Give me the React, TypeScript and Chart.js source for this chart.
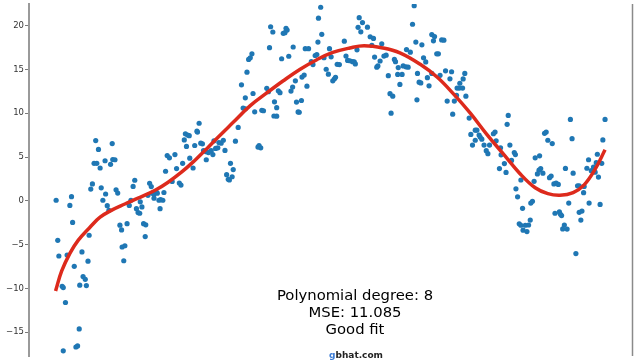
import React, { useEffect, useRef } from "react";
import { Chart, registerables } from "chart.js";

Chart.register(...registerables);

// Observed samples [x, y]
const observedPoints: [number, number][] = [
  [0.02, 0.07], [0.05, -4.51], [0.07, -6.3], [0.13, -9.76], [0.15, -9.91], [0.15, -17.13],
  [0.19, -11.61], [0.22, -6.19], [0.27, -0.52], [0.3, 0.48], [0.32, -2.46], [0.35, -7.48],
  [0.38, -16.69], [0.41, -16.57], [0.44, -14.63], [0.45, -9.63], [0.49, -5.83], [0.51, -8.64],
  [0.55, -8.96], [0.57, -9.68], [0.6, -6.89], [0.62, -3.93], [0.65, 1.34], [0.68, 1.93],
  [0.71, 4.28], [0.76, 4.28], [0.74, 6.88], [0.79, 5.87], [0.82, 3.75], [0.84, 1.49],
  [0.87, 0.07], [0.91, 4.58], [0.92, 0.78], [0.95, -0.55], [0.98, -1.08], [1.01, 4.17],
  [1.04, 6.54], [1.05, 4.72], [1.09, 4.69], [1.11, 1.26], [1.14, 0.89], [1.18, -2.78],
  [1.21, -3.32], [1.22, -5.27], [1.27, -5.13], [1.25, -6.84], [1.31, -2.61], [1.35, -0.52],
  [1.38, 0.07], [1.42, 1.65], [1.45, 2.35], [1.48, -0.89], [1.51, -1.34], [1.54, -1.42],
  [1.55, -0.11], [1.58, -0.69], [1.61, -2.61], [1.65, -2.74], [1.64, -4.08], [1.69, 0.63],
  [1.72, 2.01], [1.75, 1.63], [1.77, 0.87], [1.8, 0.78], [1.84, 1.01], [1.86, 0.87],
  [1.8, 0.31], [1.89, 0.07], [1.92, 0.15], [1.96, 0.07], [1.91, -0.89], [1.98, 0.95],
  [2.01, 3.38], [2.04, 5.17], [2.08, 4.91], [2.13, 2.21], [2.18, 5.28], [2.21, 3.69],
  [2.26, 2.04], [2.29, 1.8], [2.32, 4.28], [2.35, 6.96], [2.37, 7.66], [2.41, 7.52],
  [2.44, 7.44], [2.39, 6.21], [2.45, 4.87], [2.51, 3.75], [2.54, 6.32], [2.58, 7.96],
  [2.59, 7.85], [2.62, 8.86], [2.65, 6.59], [2.68, 6.51], [2.7, 5.73], [2.75, 5.62],
  [2.79, 5.51], [2.84, 5.73], [2.87, 5.28], [2.75, 4.69], [2.89, 6.85], [2.98, 6.66],
  [3.02, 6.59], [3.06, 6.92], [2.92, 5.99], [2.96, 6.06], [3.09, 5.76], [3.12, 2.99],
  [3.15, 2.46], [3.17, 2.38], [3.22, 2.75], [3.19, 4.28], [3.24, 3.57], [3.28, 6.81],
  [3.33, 8.38], [3.39, 13.25], [3.46, 11.76], [3.42, 10.59], [3.46, 10.51], [3.49, 14.69],
  [3.52, 16.15], [3.55, 16.34], [3.58, 16.79], [3.6, 12.26], [3.63, 10.17], [3.69, 6.14],
  [3.71, 6.32], [3.74, 6.06], [3.76, 10.34], [3.79, 10.29], [3.85, 12.85], [3.88, 12.47],
  [3.9, 17.49], [3.92, 19.88], [3.96, 19.28], [3.99, 11.31], [4.03, 10.64], [3.98, 9.69],
  [4.03, 9.67], [4.06, 12.56], [4.09, 12.35], [4.12, 16.23], [4.15, 19.13], [4.18, 19.21],
  [4.22, 19.5], [4.2, 19.71], [4.25, 16.51], [4.29, 12.54], [4.32, 12.99], [4.33, 17.57],
  [4.37, 13.71], [4.39, 11.28], [4.42, 10.16], [4.44, 10.12], [4.48, 11.46], [4.49, 14.14],
  [4.53, 14.36], [4.55, 17.38], [4.61, 17.38], [4.58, 13.1], [4.66, 15.89], [4.69, 15.56],
  [4.73, 16.6], [4.76, 16.71], [4.78, 18.13], [4.79, 20.86], [4.83, 22.11], [4.85, 19.02],
  [4.89, 16.34], [4.93, 15.03], [4.97, 14.47], [4.99, 17.38], [5.02, 16.45], [5.05, 13.71],
  [5.08, 13.94], [5.1, 14.11], [5.13, 15.59], [5.17, 15.56], [5.26, 18.24], [5.29, 16.53],
  [5.32, 16.04], [5.36, 16.0], [5.41, 15.89], [5.44, 15.86], [5.46, 15.64], [5.49, 17.25],
  [5.51, 19.82], [5.53, 20.92], [5.56, 19.3], [5.59, 20.36], [5.68, 19.83], [5.73, 18.74],
  [5.79, 18.55], [5.76, 17.76], [5.81, 16.42], [5.85, 15.26], [5.87, 15.41], [5.91, 15.97],
  [5.94, 17.94], [5.98, 16.53], [6.02, 16.64], [6.06, 14.3], [6.09, 12.24], [6.14, 11.95],
  [6.11, 10.01], [6.17, 16.15], [6.19, 15.89], [6.24, 15.22], [6.23, 14.44], [6.31, 14.44],
  [6.27, 13.29], [6.33, 15.41], [6.38, 15.3], [6.42, 15.26], [6.39, 17.27], [6.46, 16.98],
  [6.5, 20.17], [6.53, 22.29], [6.56, 18.13], [6.59, 14.55], [6.58, 11.54], [6.62, 13.55],
  [6.67, 17.82], [6.7, 16.34], [6.74, 15.86], [6.65, 13.47], [6.77, 14.07], [6.8, 13.13],
  [6.85, 18.99], [6.9, 18.76], [6.88, 18.27], [6.94, 16.79], [6.97, 16.79], [7.03, 18.38],
  [7.07, 18.35], [6.85, 14.55], [7.0, 14.33], [7.1, 14.85], [7.21, 14.74], [7.18, 13.94],
  [7.45, 14.55], [7.42, 13.92], [7.36, 13.43], [7.31, 12.88], [7.35, 12.88], [7.41, 12.88],
  [7.13, 11.39], [7.26, 11.39], [7.3, 12.06], [7.47, 11.95], [7.23, 9.9], [7.53, 9.45],
  [7.64, 8.07], [7.67, 8.07], [7.56, 7.59], [7.71, 7.52], [7.73, 7.29], [7.76, 7.04],
  [7.64, 6.92], [7.59, 6.37], [7.8, 6.37], [7.9, 6.37], [7.84, 5.73], [7.87, 5.39],
  [7.97, 7.66], [8.0, 7.85], [8.02, 6.85], [8.1, 6.06], [8.11, 5.25], [8.22, 8.74],
  [8.24, 9.75], [8.27, 6.37], [8.35, 5.51], [8.37, 5.28], [8.3, 4.61], [8.08, 3.69],
  [8.17, 4.26], [8.2, 3.24], [8.38, 1.37], [8.41, 0.46], [8.47, 2.38], [8.5, -0.86],
  [8.65, -0.26], [8.68, -0.06], [8.44, -2.62], [8.47, -2.79], [8.55, -2.79], [8.61, -2.76],
  [8.64, -2.2], [8.51, -3.35], [8.58, -3.51], [8.71, 2.23], [8.73, 4.91], [8.81, 5.14],
  [8.83, 3.69], [8.8, 3.5], [8.77, 3.07], [8.87, 3.16], [8.9, 7.71], [8.93, 7.85],
  [8.96, 6.92], [9.04, 6.54], [8.99, 2.64], [9.02, 2.83], [9.07, 1.93], [9.11, 2.04],
  [9.15, 1.88], [9.09, -1.42], [9.17, -1.27], [9.19, -1.53], [9.21, -1.68], [9.26, -2.76],
  [9.23, -3.21], [9.31, -3.23], [9.28, 3.7], [9.34, -0.25], [9.37, 9.3], [9.4, 7.1],
  [9.42, 3.16], [9.47, -6.02], [9.5, 1.71], [9.53, 1.71], [9.62, 1.65], [9.61, 0.93],
  [9.53, -1.31], [9.58, -1.17], [9.56, -2.2], [9.67, 3.72], [9.7, 4.69], [9.71, -0.26],
  [9.75, 3.44], [9.79, 3.86], [9.84, 4.36], [9.82, 3.27], [9.86, 5.32], [9.88, 2.71],
  [9.94, 4.28], [9.91, -0.41], [9.96, 6.96], [10.0, 9.3],
];

// Fitted degree-8 polynomial curve [x, y]
const fittedCurve: [number, number][] = [
  [0.01, -10.29], [0.12, -8.04], [0.27, -6.0], [0.42, -4.51], [0.64, -2.98], [0.82, -1.87],
  [1.04, -1.03], [1.27, -0.36], [1.51, 0.31], [1.82, 1.21], [2.05, 2.1], [2.31, 3.33],
  [2.55, 4.67], [2.76, 5.95], [2.95, 7.18], [3.24, 8.97], [3.55, 10.87], [3.85, 12.32],
  [4.15, 13.71], [4.45, 15.0], [4.76, 16.12], [5.05, 16.95], [5.36, 17.46], [5.62, 17.71],
  [5.96, 17.46], [6.27, 16.9], [6.64, 15.59], [6.95, 14.11], [7.24, 12.24], [7.55, 10.01],
  [7.85, 7.59], [8.15, 5.36], [8.45, 3.13], [8.73, 1.49], [8.96, 0.82], [9.18, 0.63],
  [9.42, 0.93], [9.62, 1.82], [9.82, 3.61], [10.0, 5.84],
];

const yTickValues = [-15, -10, -5, 0, 5, 10, 15, 20];
const annotationLines = ["Polynomial degree: 8", "MSE: 11.085", "Good fit"];
const watermarkParts = ["g", "bhat.com"];

const X_MIN = -0.473;
const X_MAX = 10.49;
const Y_MIN = -17.72;
const Y_MAX = 22.48;

const formatTick = (v: number) => (v < 0 ? "\u2212" + Math.abs(v) : String(v));

export default function App() {
  const canvasRef = useRef<HTMLCanvasElement>(null);

  useEffect(() => {
    if (!canvasRef.current) return;
    const rightSpine = {
      id: "rightSpine",
      afterDraw(chart: any) {
        const { ctx, chartArea } = chart;
        ctx.save();
        ctx.strokeStyle = "#8a8a8a";
        ctx.lineWidth = 1.5;
        ctx.beginPath();
        ctx.moveTo(chartArea.right + 0.5, chartArea.top);
        ctx.lineTo(chartArea.right + 0.5, chartArea.bottom);
        ctx.stroke();
        ctx.restore();
      },
    };
    const chart = new Chart(canvasRef.current, {
      type: "scatter",
      data: {
        datasets: [
          {
            label: "fit",
            data: fittedCurve.map(([x, y]) => ({ x, y })),
            showLine: true,
            borderColor: "#dd2a1c",
            borderWidth: 3.5,
            pointRadius: 0,
            tension: 0.4,
            fill: false,
            order: 0,
          } as any,
          {
            label: "data",
            data: observedPoints.map(([x, y]) => ({ x, y })),
            backgroundColor: "#1f77b4",
            borderWidth: 0,
            pointRadius: 2.6,
            order: 1,
          },
        ],
      },
      options: {
        responsive: false,
        animation: false,
        devicePixelRatio: 1,
        events: [],
        layout: { padding: { left: 0, right: 8, top: 0, bottom: 0 } },
        plugins: { legend: { display: false }, tooltip: { enabled: false } },
        scales: {
          x: { type: "linear", display: false, min: X_MIN, max: X_MAX },
          y: {
            type: "linear",
            min: Y_MIN,
            max: Y_MAX,
            afterBuildTicks: (scale: any) => {
              scale.ticks = yTickValues.map((value) => ({ value }));
            },
            afterFit: (scale: any) => {
              scale.width = 29;
              scale.paddingTop = 0;
              scale.paddingBottom = 0;
            },
            grid: {
              display: true,
              drawOnChartArea: false,
              drawTicks: true,
              tickLength: 4,
              color: "#7a7a7a",
            },
            border: { display: true, color: "#9a9a9a", width: 2 },
            ticks: {
              padding: 1,
              color: "#333333",
              font: { family: "'DejaVu Sans'", size: 8.5 },
              callback: (v: any) => formatTick(Number(v)),
            },
          },
        },
      },
      plugins: [rightSpine],
    });
    return () => chart.destroy();
  }, []);

  return (
    <div
      style={{
        position: "fixed",
        left: 0,
        top: 0,
        width: 640,
        height: 360,
        background: "#ffffff",
        overflow: "hidden",
      }}
    >
      <canvas ref={canvasRef} width={640} height={360} style={{ display: "block" }} />
      <div
        style={{
          position: "absolute",
          left: 355,
          top: 286,
          transform: "translateX(-50%)",
          textAlign: "center",
          fontFamily: "'DejaVu Sans'",
          fontSize: "14.8px",
          lineHeight: "17.2px",
          color: "#000",
          whiteSpace: "nowrap",
        }}
      >
        {annotationLines.map((t) => (
          <div key={t}>{t}</div>
        ))}
      </div>
      <div
        style={{
          position: "absolute",
          left: 356,
          top: 349,
          transform: "translateX(-50%)",
          fontFamily: "'DejaVu Sans'",
          fontWeight: "bold",
          fontSize: "9px",
          lineHeight: "12px",
          color: "#222",
          whiteSpace: "nowrap",
        }}
      >
        <span style={{ color: "#3a7bd5" }}>{watermarkParts[0]}</span>
        {watermarkParts[1]}
      </div>
    </div>
  );
}
